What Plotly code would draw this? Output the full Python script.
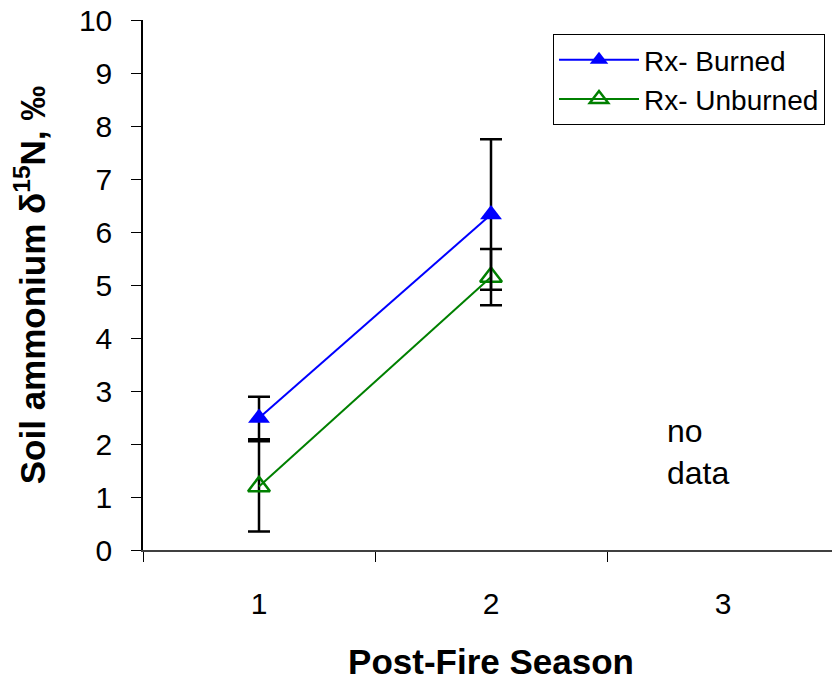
import plotly.graph_objects as go

seasons = ["1", "2", "3"]
burned_x = ["1", "2"]
burned = [2.49, 6.33]
burned_err = [0.40, 1.42]
unburned_x = ["1", "2"]
unburned = [1.20, 5.15]
unburned_err = [0.85, 0.53]
y_ticks = list(range(0, 11))

# figure is placed inside an 8px page margin
W, H = 832, 673
ML, MT, MB, MR = 135, 12, 131, 1
PW, PH = W - ML - MR, H - MT - MB

fig = go.Figure()
fig.add_trace(go.Scatter(
    x=unburned_x, y=unburned, name="Rx- Unburned", mode="lines+markers",
    line=dict(color="#008000", width=2),
    marker=dict(symbol="triangle-up-open", size=19, color="#008000", line=dict(width=2.5, color="#008000")),
    error_y=dict(type="data", array=unburned_err, visible=True, color="black", thickness=2.5, width=11),
))
fig.add_trace(go.Scatter(
    x=burned_x, y=burned, name="Rx- Burned", mode="lines+markers",
    line=dict(color="#0000FF", width=2),
    marker=dict(symbol="triangle-up", size=19, color="#0000FF"),
    error_y=dict(type="data", array=burned_err, visible=True, color="black", thickness=2.5, width=11),
))

fig.add_annotation(
    xref="paper", yref="paper", x=(657 - ML) / PW, y=1 - (444 - MT) / PH,
    text="no<br>data", showarrow=False, xanchor="left", yanchor="middle", align="left",
    font=dict(family="Liberation Sans, Arial", size=32, color="black"),
)

fig.update_layout(
    width=W, height=H,
    margin=dict(l=ML, r=MR, t=MT, b=MB, autoexpand=False),
    paper_bgcolor="white", plot_bgcolor="white",
    font=dict(family="Liberation Sans, Arial", color="black"),
    legend=dict(
        x=(545 - ML) / PW, y=1 - (26 - MT) / PH, xanchor="left", yanchor="top",
        bordercolor="black", borderwidth=1, bgcolor="white",
        font=dict(size=28, family="Liberation Sans, Arial"), traceorder="reversed",
        tracegroupgap=0, itemwidth=80,
    ),
    xaxis=dict(
        type="category", categoryorder="array", categoryarray=seasons,
        range=[-0.5, 2.5], tickson="boundaries", ticks="outside", ticklen=10,
        tickcolor="black", tickwidth=1, showline=True, linecolor="#404040", linewidth=2,
        showgrid=False, zeroline=False, ticklabelstandoff=26, automargin=False,
        tickfont=dict(size=30),
        title=dict(text="<b>Post-Fire Season</b>", standoff=33, font=dict(size=35)),
    ),
    yaxis=dict(
        range=[0, 10], tickvals=y_ticks, ticks="outside", ticklen=10, tickcolor="black",
        tickwidth=1, showline=True, linecolor="black", linewidth=1.5, showgrid=False,
        zeroline=False, tickfont=dict(size=30), ticklabelstandoff=13, automargin=False,
        ticklabeloverflow="allow",
        title=dict(text="<b>Soil ammonium δ<sup>15</sup>N, ‰</b>", standoff=30, font=dict(size=35)),
    ),
)

fig.write_html("out.html")
